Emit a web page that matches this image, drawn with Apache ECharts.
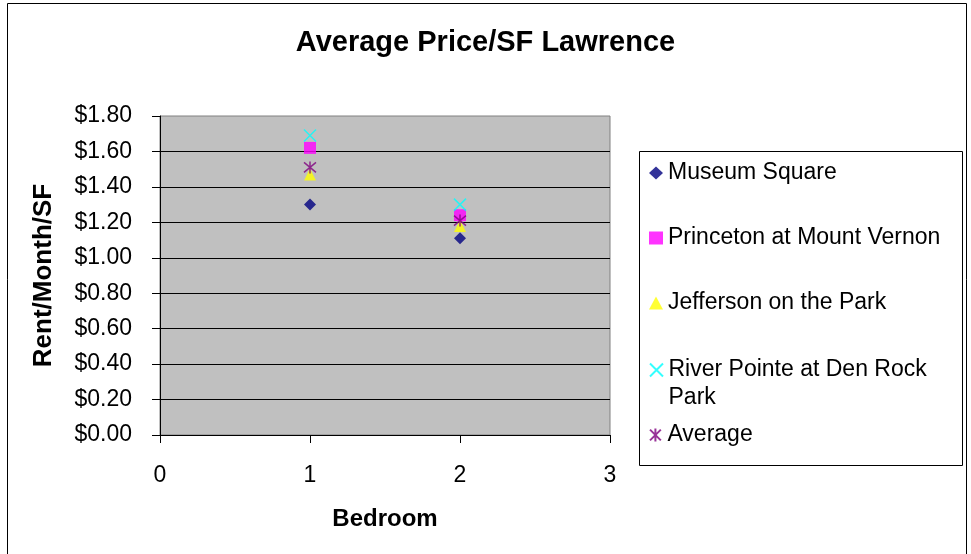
<!DOCTYPE html>
<html>
<head>
<meta charset="utf-8">
<script src="https://cdn.jsdelivr.net/npm/echarts@6/dist/echarts.min.js"></script>
<style>
html,body{margin:0;padding:0;background:#fff;}
#chart{width:971px;height:554px;}
</style>
</head>
<body>
<div id="chart"></div>
<script>
// ---- data ----
const bedrooms = [1, 2];
const seriesNames = ['Museum Square', 'Princeton at Mount Vernon', 'Jefferson on the Park', 'River Pointe at Den Rock Park', 'Average'];
const museumSquare = [1.30, 1.11];
const princeton = [1.62, 1.24];
const jefferson = [1.47, 1.18];
const riverPointe = [1.69, 1.30];
const average = [1.51, 1.21];
const xTicks = [0, 1, 2, 3];
const yTickMax = 1.8;

const FONT = 'Arial, "Liberation Sans", sans-serif';
const pairs = vals => bedrooms.map((b, i) => [b, vals[i]]);

const styles = [
  {symbol: 'diamond', size: 12, color: '#000080'},
  {symbol: 'rect', size: 12, color: '#FF00FF'},
  {symbol: 'triangle', size: 12, color: '#FFFF00'},
  {symbol: 'path://M0,0L10,10M10,0L0,10', size: 12, color: '#00FFFF', stroke: true},
  {symbol: 'path://M0,0L10,10M10,0L0,10M5,-1L5,11', size: 12, color: '#800080', stroke: true}
];
const values = [museumSquare, princeton, jefferson, riverPointe, average];

const series = values.map((v, i) => ({
  name: seriesNames[i],
  type: 'scatter',
  data: pairs(v),
  symbol: styles[i].symbol,
  symbolSize: styles[i].size,
  itemStyle: styles[i].stroke
    ? {color: styles[i].color, borderColor: styles[i].color, borderWidth: 1.5}
    : {color: styles[i].color},
  emphasis: {disabled: true}
}));

const legendCenters = [173, 238, 303, 370, 435];
const legends = seriesNames.map((n, i) => {
  const two = (i === 3);
  return {
    show: true,
    orient: 'vertical',
    left: 649,
    top: two ? legendCenters[i] - 42 : legendCenters[i] - 13,
    padding: 0,
    itemWidth: 14,
    itemHeight: 13,
    itemGap: 0,
    selectedMode: false,
    data: [n],
    formatter: name => name === 'River Pointe at Den Rock Park' ? ' \nRiver Pointe at Den Rock\nPark' : name,
    textStyle: {fontFamily: FONT, fontSize: 23, color: '#000', lineHeight: two ? 28 : 26}
  };
});

const chart = echarts.init(document.getElementById('chart'), null, {renderer: 'canvas'});
chart.setOption({
  backgroundColor: '#fff',
  animation: false,
  title: {
    text: 'Average Price/SF Lawrence',
    left: 'center',
    top: 29,
    padding: 0,
    textStyle: {fontFamily: FONT, fontSize: 29, fontWeight: 'bold', color: '#000', lineHeight: 28}
  },
  legend: legends,
  grid: {
    left: 160, right: 361, top: 116, bottom: 119,
    show: true, backgroundColor: '#C0C0C0', borderColor: '#808080', borderWidth: 1
  },
  xAxis: {
    type: 'value',
    min: xTicks[0], max: xTicks[xTicks.length - 1], interval: 1,
    name: 'Bedroom',
    nameLocation: 'middle',
    nameGap: 72,
    nameTextStyle: {fontFamily: FONT, fontSize: 24, fontWeight: 'bold', color: '#000'},
    axisLine: {show: true, onZero: false, lineStyle: {color: '#000', width: 1}},
    axisTick: {show: true, inside: false, length: 8, lineStyle: {color: '#000'}},
    axisLabel: {fontFamily: FONT, fontSize: 23, color: '#000', margin: 29},
    splitLine: {show: false}
  },
  yAxis: {
    type: 'value',
    min: 0, max: yTickMax, interval: 0.2,
    name: 'Rent/Month/SF',
    nameLocation: 'middle',
    nameGap: 103,
    nameRotate: 90,
    nameTextStyle: {fontFamily: FONT, fontSize: 26, fontWeight: 'bold', color: '#000', padding: [0, 0, 0, 0]},
    axisLine: {show: true, onZero: false, lineStyle: {color: '#000', width: 1}},
    axisTick: {show: true, inside: false, length: 8, lineStyle: {color: '#000'}},
    axisLabel: {fontFamily: FONT, fontSize: 23, color: '#000', margin: 28,
      formatter: v => '$' + v.toFixed(2)},
    splitLine: {show: true, showMaxLine: false, lineStyle: {color: '#000', width: 1}}
  },
  graphic: [
    {type: 'rect', silent: true, shape: {x: 7.5, y: 3.5, width: 959, height: 570},
      style: {fill: 'none', stroke: '#000', lineWidth: 1}, z: -1},
    {type: 'rect', silent: true, shape: {x: 639.5, y: 151.5, width: 323, height: 314},
      style: {fill: '#fff', stroke: '#000', lineWidth: 1}, z: -1}
  ],
  series: series
});
</script>
</body>
</html>
